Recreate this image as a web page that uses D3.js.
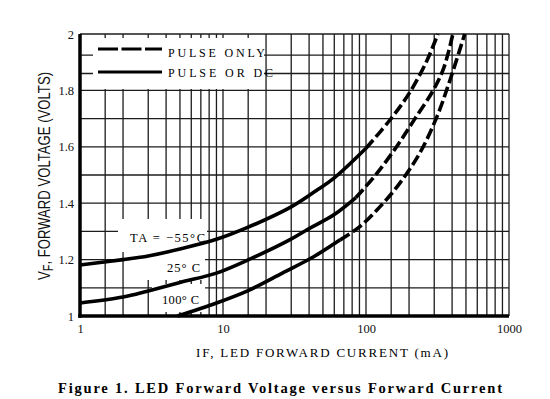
<!DOCTYPE html>
<html>
<head>
<meta charset="utf-8">
<script src="https://cdn.jsdelivr.net/npm/d3@7"></script>
<style>
  body { margin: 0; background: #fff; }
  svg { display: block; }
  .serif { font-family: "Liberation Serif", "Times New Roman", serif; }
</style>
</head>
<body>
<svg id="fig" width="550" height="399"></svg>
<script>
// curves: forward current (mA) vs forward voltage (V)
const currentM55 = [1, 2, 3, 5, 9, 15, 30, 45, 60, 100, 147, 203, 268, 318];
const voltM55    = [1.181, 1.200, 1.213, 1.238, 1.272, 1.315, 1.387, 1.445, 1.49, 1.595, 1.695, 1.794, 1.908, 2.0];

const current25 = [1, 2, 3, 5, 9, 15, 29, 40, 60, 85, 118, 165, 220, 295, 350, 405];
const volt25    = [1.046, 1.067, 1.089, 1.119, 1.152, 1.199, 1.269, 1.31, 1.36, 1.42, 1.503, 1.603, 1.7, 1.8, 1.88, 2.0];

const current100 = [4.8, 9, 15, 26, 43, 66, 90, 125, 173, 238, 313, 387, 490];
const volt100    = [1.0, 1.046, 1.09, 1.152, 1.21, 1.27, 1.316, 1.387, 1.472, 1.578, 1.706, 1.837, 2.0];

// current above which each curve is "pulse only" (dashed)
const pulseFrom = [100, 85, 66];
const curveNames = ["TA = \u221255\u00b0C", "25\u00b0 C", "100\u00b0 C"];

const xTicks = [1, 10, 100, 1000];
const yTicks = [1, 1.2, 1.4, 1.6, 1.8, 2];
const xGrid = [1.5, 2, 3, 4, 5, 6, 7, 8, 9, 10, 15, 20, 30, 40, 50, 60, 70, 80, 90, 100,
               150, 200, 300, 400, 500, 600, 700, 800, 900, 1000];
const yGrid = [1.1, 1.2, 1.3, 1.4, 1.5, 1.6, 1.7, 1.8, 1.86, 1.925, 2];

const legendLabels = ["PULSE ONLY", "PULSE OR DC"];

const svg = d3.select("#fig");
const plotLeft = 80, plotRight = 509, plotTop = 34, plotBottom = 316;

const x = d3.scaleLog().domain([1, 1000]).range([plotLeft, plotRight]);
const y = d3.scaleLinear().domain([1, 2]).range([plotBottom, plotTop]);

// grid
const grid = svg.append("g").attr("stroke", "#1c1c1c").attr("stroke-width", 1.3);
grid.selectAll("line.v").data(xGrid).enter().append("line")
  .attr("x1", d => x(d)).attr("x2", d => x(d))
  .attr("y1", plotTop).attr("y2", plotBottom);
grid.selectAll("line.h").data(yGrid).enter().append("line")
  .attr("x1", plotLeft).attr("x2", plotRight)
  .attr("y1", d => y(d)).attr("y2", d => y(d));

// white boxes behind the curve labels and the legend
const boxes = [
  [118, 219, 89, 33],
  [130, 252, 75, 28],
  [152, 284, 53, 28],
  [93, 38, 171, 51]
];
svg.selectAll("rect.bg").data(boxes).enter().append("rect")
  .attr("x", d => d[0]).attr("y", d => d[1])
  .attr("width", d => d[2]).attr("height", d => d[3])
  .attr("fill", "#fff");

// axes
const yAxis = svg.append("g")
  .attr("transform", `translate(${plotLeft},0)`)
  .call(d3.axisLeft(y).tickValues(yTicks).tickFormat(d => String(d)).tickSize(0).tickPadding(6));
const xAxis = svg.append("g")
  .attr("transform", `translate(0,${plotBottom})`)
  .call(d3.axisBottom(x).tickValues(xTicks).tickFormat(d => String(d)).tickSize(0).tickPadding(8));
[yAxis, xAxis].forEach(a => {
  a.select(".domain").attr("stroke", "#000").attr("stroke-width", 3.5);
  a.selectAll("text").attr("class", "serif").attr("font-size", 12.5).attr("fill", "#111");
});
yAxis.select(".domain").attr("d", `M0,${plotTop}V${plotBottom + 1.75}`);
xAxis.select(".domain").attr("d", `M${plotLeft - 1.75},0H${plotRight}`);

// curves
const line = d3.line()
  .x(d => x(d.i))
  .y(d => y(d.v))
  .curve(d3.curveCatmullRom.alpha(0.5));

const series = [
  currentM55.map((c, k) => ({i: c, v: voltM55[k]})),
  current25.map((c, k) => ({i: c, v: volt25[k]})),
  current100.map((c, k) => ({i: c, v: volt100[k]}))
];

series.forEach((pts, k) => {
  const solid = pts.filter(p => p.i <= pulseFrom[k]);
  const dashed = pts.filter(p => p.i >= pulseFrom[k]);
  svg.append("path").datum(solid)
    .attr("d", line).attr("fill", "none")
    .attr("stroke", "#000").attr("stroke-width", 3.6);
  svg.append("path").datum(dashed)
    .attr("d", line).attr("fill", "none")
    .attr("stroke", "#000").attr("stroke-width", 3.6)
    .attr("stroke-dasharray", "11,4");
});

// curve labels
const labelPos = [[130, 242, 75], [167, 272, 33], [162, 304, 37]];
svg.selectAll("text.curve").data(curveNames).enter().append("text")
  .attr("class", "serif")
  .attr("x", (d, i) => labelPos[i][0])
  .attr("y", (d, i) => labelPos[i][1])
  .attr("textLength", (d, i) => labelPos[i][2])
  .attr("lengthAdjust", "spacing")
  .attr("font-size", 12.5)
  .text(d => d);

// legend
const legend = svg.append("g");
legend.selectAll("line").data(legendLabels).enter().append("line")
  .attr("x1", 98).attr("x2", 162)
  .attr("y1", (d, i) => 49 + i * 23).attr("y2", (d, i) => 49 + i * 23)
  .attr("stroke", "#000").attr("stroke-width", 3)
  .attr("stroke-dasharray", (d, i) => i === 0 ? "20,3.5" : null);
legend.selectAll("text").data(legendLabels).enter().append("text")
  .attr("class", "serif")
  .attr("x", 168)
  .attr("y", (d, i) => 57 + i * 20)
  .attr("textLength", (d, i) => i === 0 ? 97 : 105)
  .attr("lengthAdjust", "spacing")
  .attr("font-size", 12)
  .text(d => d);

// axis titles
const yTitle = svg.append("text")
  .attr("transform", "rotate(-90)")
  .attr("x", -176).attr("y", 50)
  .attr("text-anchor", "middle")
  .attr("font-family", "'Liberation Sans', Arial, sans-serif")
  .attr("font-size", 17)
  .attr("textLength", 208)
  .attr("lengthAdjust", "spacingAndGlyphs")
  .attr("fill", "#111");
yTitle.append("tspan").text("V");
yTitle.append("tspan").attr("dy", 3).attr("font-size", 14).text("F");
yTitle.append("tspan").attr("dy", -3).text(", FORWARD VOLTAGE (VOLTS)");

svg.append("text")
  .attr("class", "serif")
  .attr("x", 196).attr("y", 357)
  .attr("font-size", 13)
  .attr("textLength", 252)
  .attr("lengthAdjust", "spacing")
  .text("IF, LED FORWARD CURRENT (mA)");

svg.append("text")
  .attr("class", "serif")
  .attr("x", 58).attr("y", 393)
  .attr("font-size", 14.5)
  .attr("font-weight", "bold")
  .attr("textLength", 444)
  .attr("lengthAdjust", "spacing")
  .text("Figure 1. LED Forward Voltage versus Forward Current");
</script>
</body>
</html>
